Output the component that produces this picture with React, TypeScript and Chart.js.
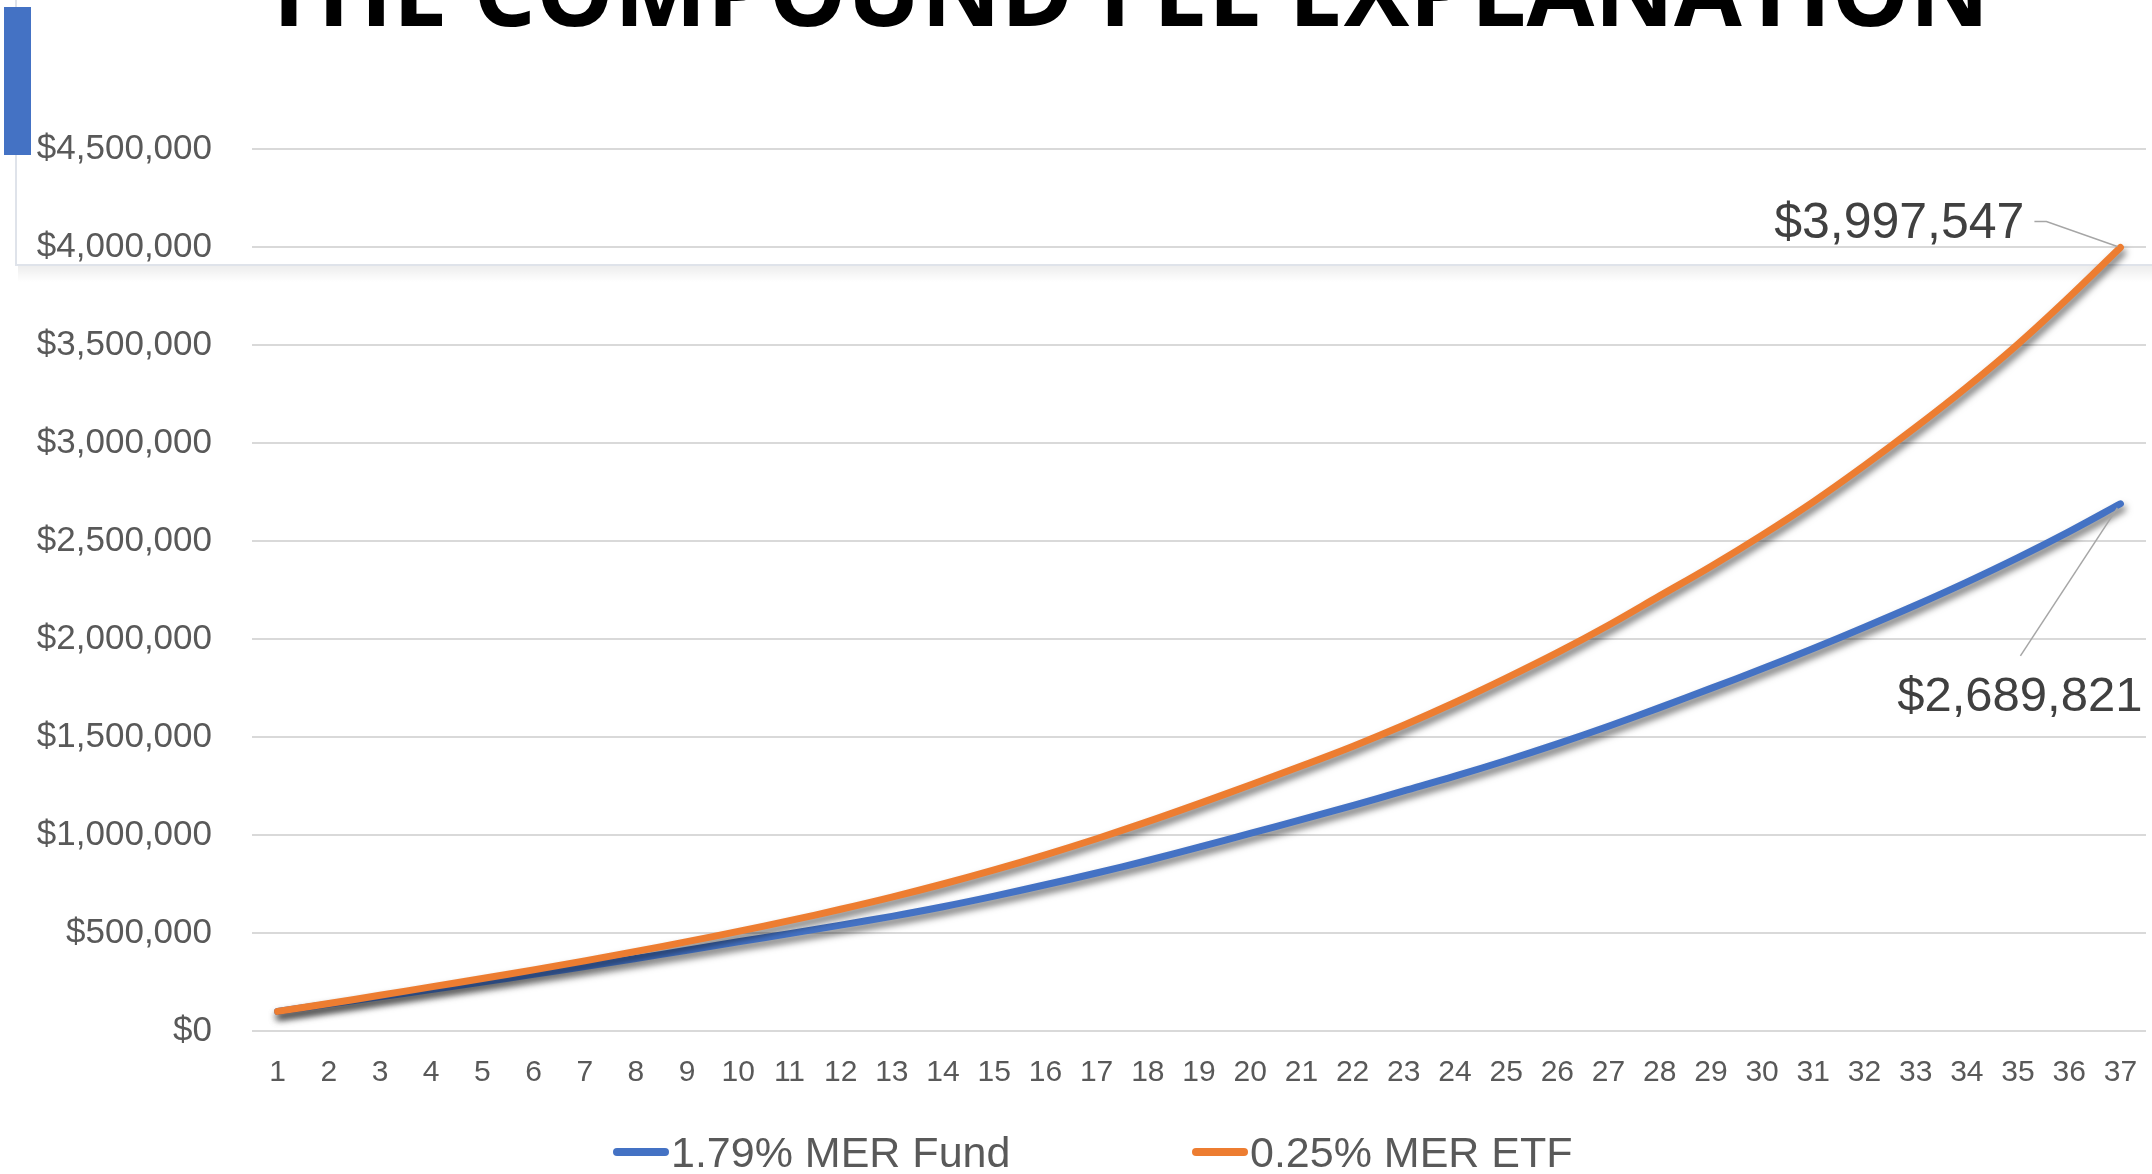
import React, { useEffect, useRef } from 'react';
import { Chart, registerables } from 'chart.js';

Chart.register(...registerables);

// ---- data ---------------------------------------------------------------
const TITLE = 'THE COMPOUND FEE EXPLANATION';

const years = [
  '1', '2', '3', '4', '5', '6', '7', '8', '9', '10',
  '11', '12', '13', '14', '15', '16', '17', '18', '19', '20',
  '21', '22', '23', '24', '25', '26', '27', '28', '29', '30',
  '31', '32', '33', '34', '35', '36', '37',
];

const fundLabel = '1.79% MER Fund';
const etfLabel = '0.25% MER ETF';

const fundValues = [
  100000, 137000, 174000, 212000, 250000, 289000, 329000, 370000, 412000, 455000,
  497000, 540000, 585000, 634000, 688000, 746000, 806000, 870000, 938000, 1008000,
  1078000, 1150000, 1225000, 1300000, 1380000, 1465000, 1555000, 1650000, 1748000, 1848000,
  1952000, 2060000, 2172000, 2290000, 2415000, 2548000, 2689821,
];

const etfValues = [
  100000, 140000, 182000, 225000, 268000, 312000, 358000, 406000, 456000, 508000,
  563000, 621000, 683000, 750000, 822000, 899000, 981000, 1068000, 1160000, 1255000,
  1352000, 1452000, 1560000, 1676000, 1800000, 1930000, 2070000, 2220000, 2370000, 2530000,
  2700000, 2885000, 3080000, 3285000, 3505000, 3745000, 3997547,
];

const yMin = 0;
const yMax = 4500000;
const yStep = 500000;

// ---- styling ------------------------------------------------------------
const BLUE = '#4472C4';
const ORANGE = '#ED7D31';
const TEXT_GREY = '#595959';
const LABEL_DARK = '#404040';
const GRID = '#D9D9D9';
const FONT = "'Liberation Sans', Arial, Helvetica, sans-serif";

const W = 2152;
const H = 1174;

// left edge of each legend entry
const legendX = [613, 1192];

const money = (v: number) => '$' + Math.round(v).toLocaleString('en-US');

// Slide furniture: accent bar, placeholder frame and the (partly off-canvas) title.
const slideDecor = {
  id: 'slideDecor',
  beforeDraw(chart: any) {
    const { ctx } = chart;
    ctx.save();
    ctx.fillStyle = '#ffffff';
    ctx.fillRect(0, 0, chart.width, chart.height);

    // frame of the title placeholder with its soft shadow
    const grad = ctx.createLinearGradient(0, 266, 0, 282);
    grad.addColorStop(0, 'rgba(0,0,0,0.07)');
    grad.addColorStop(1, 'rgba(0,0,0,0)');
    ctx.fillStyle = grad;
    ctx.fillRect(18, 266, chart.width - 18, 16);
    ctx.strokeStyle = '#DFE3EA';
    ctx.lineWidth = 2;
    ctx.beginPath();
    ctx.moveTo(16, 0);
    ctx.lineTo(16, 265);
    ctx.lineTo(chart.width, 265);
    ctx.stroke();

    // accent bar
    ctx.fillStyle = BLUE;
    ctx.fillRect(4, 7, 27, 148);

    // title, sized to its line width
    const titleWidth = 1729;
    ctx.font = `700 100px 'Open Sans', ${FONT}`;
    const measured = ctx.measureText(TITLE).width;
    const size = (100 * titleWidth) / measured;
    ctx.font = `700 ${size}px 'Open Sans', ${FONT}`;
    ctx.fillStyle = '#000000';
    ctx.textAlign = 'center';
    ctx.textBaseline = 'alphabetic';
    ctx.fillText(TITLE, 1125, 26);
    ctx.restore();
  },
};

// Drop shadow beneath each series line.
const lineShadow = {
  id: 'lineShadow',
  beforeDatasetDraw(chart: any) {
    const { ctx } = chart;
    ctx.save();
    ctx.shadowColor = 'rgba(0,0,0,0.55)';
    ctx.shadowBlur = 7;
    ctx.shadowOffsetX = 2;
    ctx.shadowOffsetY = 5;
  },
  afterDatasetDraw(chart: any) {
    chart.ctx.restore();
  },
};

// Value labels for the final year, with leader lines.
const endLabels = {
  id: 'endLabels',
  afterDatasetsDraw(chart: any) {
    const { ctx } = chart;
    const last = years.length - 1;
    const etfPt = chart.getDatasetMeta(1).data[last];
    const fundPt = chart.getDatasetMeta(0).data[last];
    ctx.save();
    ctx.fillStyle = LABEL_DARK;
    ctx.textBaseline = 'alphabetic';
    ctx.strokeStyle = '#A6A6A6';
    ctx.lineWidth = 1.5;

    // ETF label: up and to the left of the end point
    ctx.font = `50px ${FONT}`;
    ctx.textAlign = 'right';
    ctx.fillText(money(etfValues[last]), etfPt.x - 96, etfPt.y - 9);
    ctx.beginPath();
    ctx.moveTo(etfPt.x - 86, etfPt.y - 26);
    ctx.lineTo(etfPt.x - 74, etfPt.y - 26);
    ctx.lineTo(etfPt.x - 3, etfPt.y - 1);
    ctx.stroke();

    // Fund label: below the end point
    ctx.font = `49px ${FONT}`;
    ctx.fillText(money(fundValues[last]), fundPt.x + 22, fundPt.y + 207);
    ctx.beginPath();
    ctx.moveTo(fundPt.x - 100, fundPt.y + 152);
    ctx.lineTo(fundPt.x - 3, fundPt.y + 4);
    ctx.stroke();
    ctx.restore();
  },
};

// Legend row at the bottom: short line marker followed by the series name.
const bottomLegend = {
  id: 'bottomLegend',
  afterDraw(chart: any) {
    const { ctx } = chart;
    const markerW = 56;
    const y = 1152;
    ctx.save();
    ctx.font = `43px ${FONT}`;
    chart.data.datasets.forEach((ds: any, i: number) => {
      const x = legendX[i];
      ctx.strokeStyle = ds.borderColor;
      ctx.lineWidth = 8;
      ctx.lineCap = 'round';
      ctx.beginPath();
      ctx.moveTo(x + 4, y);
      ctx.lineTo(x + markerW - 4, y);
      ctx.stroke();
      ctx.fillStyle = TEXT_GREY;
      ctx.textAlign = 'left';
      ctx.textBaseline = 'alphabetic';
      ctx.fillText(ds.label, x + markerW + 2, y + 15);
    });
    ctx.restore();
  },
};

export default function App() {
  const canvasRef = useRef<HTMLCanvasElement | null>(null);

  useEffect(() => {
    const canvas = canvasRef.current;
    if (!canvas) return;
    const chart = new Chart(canvas, {
      type: 'line',
      data: {
        labels: years,
        datasets: [
          {
            label: fundLabel,
            data: fundValues,
            borderColor: BLUE,
            backgroundColor: BLUE,
            borderWidth: 7,
            pointRadius: 0,
            tension: 0.35,
            borderCapStyle: 'round',
            borderJoinStyle: 'round',
            order: 1,
          },
          {
            label: etfLabel,
            data: etfValues,
            borderColor: ORANGE,
            backgroundColor: ORANGE,
            borderWidth: 7,
            pointRadius: 0,
            tension: 0.35,
            borderCapStyle: 'round',
            borderJoinStyle: 'round',
            order: 0,
          },
        ],
      },
      options: {
        responsive: false,
        maintainAspectRatio: false,
        devicePixelRatio: 1,
        animation: false,
        layout: { padding: { left: 0, right: 6, top: 149, bottom: 0 } },
        plugins: {
          legend: { display: false },
          tooltip: { enabled: false },
          title: { display: false },
        },
        scales: {
          x: {
            offset: true,
            grid: { display: false, drawTicks: false },
            border: { display: false },
            ticks: {
              color: TEXT_GREY,
              font: { family: FONT, size: 30 },
              padding: 24,
              maxRotation: 0,
              autoSkip: false,
            },
            afterFit(scale: any) {
              scale.height = 143;
              scale.paddingLeft = 0;
              scale.paddingRight = 0;
            },
          },
          y: {
            min: yMin,
            max: yMax,
            grid: { color: GRID, lineWidth: 2, drawTicks: false },
            border: { display: false },
            ticks: {
              stepSize: yStep,
              color: TEXT_GREY,
              font: { family: FONT, size: 35 },
              padding: 40,
              callback: (v: any) => money(Number(v)),
            },
            afterFit(scale: any) {
              scale.width = 252;
            },
          },
        },
      },
      plugins: [slideDecor, lineShadow, endLabels, bottomLegend],
    } as any);
    return () => chart.destroy();
  }, []);

  return (
    <div style={{ position: 'fixed', left: 0, top: 0, width: W, height: H, background: '#fff' }}>
      <canvas ref={canvasRef} width={W} height={H} style={{ width: W, height: H, display: 'block' }} />
    </div>
  );
}
